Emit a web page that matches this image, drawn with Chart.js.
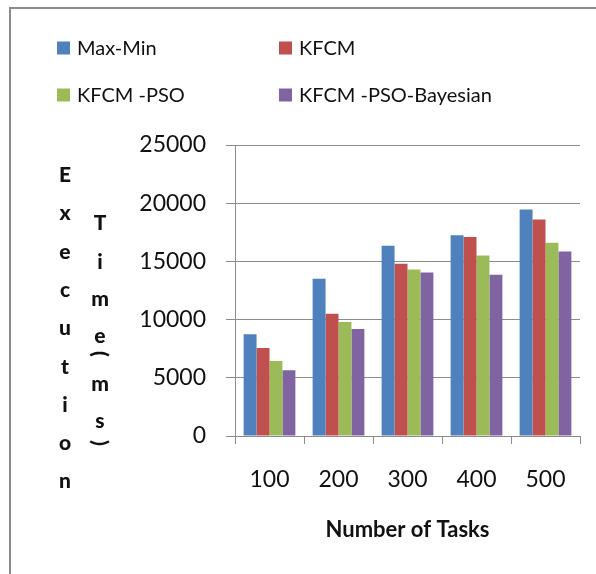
<!DOCTYPE html>
<html>
<head>
<meta charset="utf-8">
<script src="https://cdn.jsdelivr.net/npm/chart.js@4.4.0/dist/chart.umd.min.js"></script>
<style>
    html, body { margin: 0; padding: 0; background: #fff; overflow: hidden; }
    #wrap { position: relative; width: 596px; height: 574px; }
    #frame { position: absolute; left: 9px; top: 7px; width: 700px; height: 700px;
             border-left: 2px solid #8c8c8c; border-top: 2px solid #8c8c8c; }
    canvas { position: absolute; left: 0; top: 0; }
</style>
</head>
<body>
<div id="wrap">
    <canvas id="chart" width="596" height="574"></canvas>
    <div id="frame"></div>
</div>
<script>
// data
const tasks = ['100', '200', '300', '400', '500'];
const seriesNames = ['Max-Min', 'KFCM', 'KFCM -PSO', 'KFCM -PSO-Bayesian'];
const maxMin = [8750, 13500, 16350, 17250, 19450];
const kfcm = [7550, 10500, 14800, 17100, 18600];
const kfcmPso = [6450, 9800, 14300, 15500, 16600];
const kfcmPsoBayesian = [5650, 9200, 14050, 13850, 15850];
const yMax = 25000;
const yStep = 5000;

const colors = ['#4F81BD', '#C0504D', '#9BBB59', '#8064A2'];
const fontFamily = 'Lato, "Open Sans", sans-serif';
const axisGray = '#8c8c8c';

// legend in two columns, like the Excel original
const gridLegend = {
    id: 'gridLegend',
    afterDraw(chart) {
        const ctx = chart.ctx;
        const cols = [57, 279];
        const rows = [48, 95];
        ctx.save();
        ctx.font = '20px ' + fontFamily;
        ctx.textBaseline = 'middle';
        ctx.textAlign = 'left';
        chart.data.datasets.forEach((ds, i) => {
            const x = cols[i % 2];
            const y = rows[Math.floor(i / 2)];
            ctx.fillStyle = ds.backgroundColor;
            ctx.fillRect(x, y - 6.5, 13, 13);
            ctx.fillStyle = '#111';
            ctx.fillText(ds.label, x + 20, y + 1);
        });
        ctx.restore();
    }
};

// stacked vertical y axis title
const stackedTitle = {
    id: 'stackedTitle',
    afterDraw(chart) {
        const ctx = chart.ctx;
        ctx.save();
        ctx.font = '900 21px ' + fontFamily;
        ctx.fillStyle = '#111';
        ctx.textAlign = 'center';
        ctx.textBaseline = 'alphabetic';
        'Execution'.split('').forEach((ch, i) => {
            ctx.fillText(ch, 65, 182 + i * 38.3);
        });
        const col2 = [['T', 230], ['i', 269], ['m', 306], ['e', 343], ['(', 354], ['m', 391], ['s', 428], [')', 443]];
        col2.forEach(([ch, y]) => {
            if (ch === '(' || ch === ')') {
                ctx.save();
                ctx.translate(100, y);
                ctx.rotate(Math.PI / 2);
                ctx.textBaseline = 'middle';
                ctx.fillText(ch, 0, 0);
                ctx.restore();
            } else {
                ctx.fillText(ch, 100, y);
            }
        });
        ctx.restore();
    }
};

const ctx = document.getElementById('chart').getContext('2d');
new Chart(ctx, {
    type: 'bar',
    data: {
        labels: tasks,
        datasets: [maxMin, kfcm, kfcmPso, kfcmPsoBayesian].map((values, i) => ({
            label: seriesNames[i],
            data: values,
            backgroundColor: colors[i],
            borderWidth: 0,
            categoryPercentage: 0.75,
            barPercentage: 1.0
        }))
    },
    options: {
        responsive: false,
        animation: false,
        layout: { padding: { top: 145, right: 16, left: 0, bottom: 0 } },
        plugins: {
            legend: { display: false },
            tooltip: { enabled: false }
        },
        scales: {
            x: {
                grid: { drawOnChartArea: false, drawTicks: true, tickLength: 8, color: axisGray },
                border: { color: axisGray },
                ticks: { color: '#111', font: { family: fontFamily, size: 23 }, padding: 22 },
                title: {
                    display: true,
                    text: 'Number of Tasks',
                    color: '#111',
                    font: { family: fontFamily, size: 22, weight: 'bold' },
                    padding: { top: 0, bottom: 31 }
                },
                afterFit(scale) { scale.height = 138; }
            },
            y: {
                min: 0,
                max: yMax,
                grid: { color: axisGray, tickLength: 9 },
                border: { color: axisGray },
                ticks: {
                    stepSize: yStep,
                    color: '#111',
                    font: { family: fontFamily, size: 23 },
                    padding: 20,
                    callback: value => String(value)
                },
                afterFit(scale) { scale.width = 235; }
            }
        }
    },
    plugins: [gridLegend, stackedTitle]
});
</script>
</body>
</html>
